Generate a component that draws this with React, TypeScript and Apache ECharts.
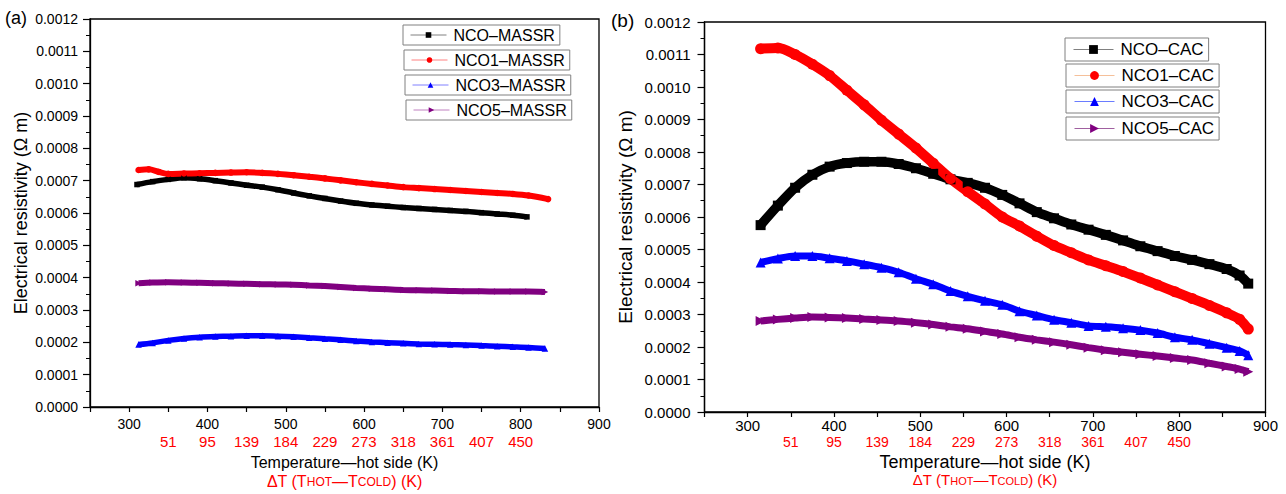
import React, { useEffect, useRef } from "react";
import * as echarts from "echarts";

// ---------- Panel (a): MASSR samples ----------
const tNCO_M = [310, 330, 350, 370, 390, 410, 430, 450, 470, 490, 510, 530, 550, 570, 590, 610, 630, 650, 670, 690, 710, 730, 750, 770, 790, 808];
const rNCO_M = [0.000688, 0.000697, 0.000704, 0.000709, 0.000706, 0.0007, 0.000693, 0.000686, 0.00068, 0.000672, 0.000662, 0.000653, 0.000645, 0.000637, 0.00063, 0.000625, 0.000621, 0.000617, 0.000614, 0.000611, 0.000608, 0.000605, 0.000601, 0.000597, 0.000593, 0.000588];

const tNCO1_M = [312, 325, 338, 350, 370, 390, 410, 430, 450, 470, 490, 510, 530, 550, 570, 590, 610, 630, 650, 670, 690, 710, 730, 750, 770, 790, 810, 835];
const rNCO1_M = [0.000733, 0.000735, 0.000727, 0.000721, 0.000722, 0.000723, 0.000724, 0.000725, 0.000726, 0.000724, 0.000721, 0.000717, 0.000712, 0.000707, 0.000701, 0.000695, 0.00069, 0.000685, 0.00068, 0.000677, 0.000674, 0.000671, 0.000668, 0.000665, 0.000662, 0.000659, 0.000654, 0.000643];

const tNCO35_M = [312, 330, 350, 370, 390, 410, 430, 450, 470, 490, 510, 530, 550, 570, 590, 610, 630, 650, 670, 690, 710, 730, 750, 770, 790, 810, 831];
const rNCO3_M = [0.000193, 0.000198, 0.000206, 0.000212, 0.000216, 0.000218, 0.000219, 0.00022, 0.00022, 0.000219, 0.000217, 0.000214, 0.000211, 0.000208, 0.000204, 0.000201, 0.000199, 0.000197, 0.000195, 0.000194, 0.000193, 0.000192, 0.00019, 0.000188, 0.000186, 0.000184, 0.000181];
const rNCO5_M = [0.000383, 0.000385, 0.000386, 0.000385, 0.000384, 0.000383, 0.000382, 0.000381, 0.00038, 0.000379, 0.000378, 0.000376, 0.000374, 0.000371, 0.000368, 0.000366, 0.000364, 0.000362, 0.000361, 0.00036, 0.000359, 0.000358, 0.000358, 0.000357, 0.000357, 0.000357, 0.000356];

// ---------- Panel (b): CAC samples ----------
const tCAC = [315, 335, 355, 375, 395, 415, 435, 455, 475, 495, 515, 535, 555, 575, 595, 615, 635, 655, 675, 695, 715, 735, 755, 775, 795, 815, 835, 855, 870, 880];
const rNCO_C = [0.000575, 0.000635, 0.00069, 0.00073, 0.000755, 0.000766, 0.00077, 0.00077, 0.000763, 0.00075, 0.000733, 0.000716, 0.000705, 0.00069, 0.000668, 0.000642, 0.000615, 0.000596, 0.000577, 0.000561, 0.000545, 0.000528, 0.00051, 0.000495, 0.00048, 0.000468, 0.000455, 0.00044, 0.00042, 0.000395];
const rNCO1_C = [0.001118, 0.00112, 0.0011, 0.00107, 0.001035, 0.00099, 0.000945, 0.000898, 0.000855, 0.000812, 0.000765, 0.000718, 0.000678, 0.00064, 0.000600, 0.000572, 0.000541, 0.000512, 0.00049, 0.000468, 0.00045, 0.000432, 0.000412, 0.000391, 0.00037, 0.000349, 0.000328, 0.000305, 0.000285, 0.000255];
const rNCO3_C = [0.00046, 0.000472, 0.00048, 0.00048, 0.000473, 0.000465, 0.000455, 0.000444, 0.00043, 0.00041, 0.000393, 0.000372, 0.000356, 0.000342, 0.00033, 0.00031, 0.000297, 0.000284, 0.000275, 0.000265, 0.000262, 0.000258, 0.000252, 0.000243, 0.00023, 0.000222, 0.00021, 0.000198, 0.000188, 0.000175];
const rNCO5_C = [0.00028, 0.000285, 0.000289, 0.000292, 0.000291, 0.000289, 0.000286, 0.000283, 0.00028, 0.000275, 0.000269, 0.000262, 0.000256, 0.000248, 0.00024, 0.00023, 0.000222, 0.000215, 0.000207, 0.000198, 0.00019, 0.000184, 0.000178, 0.000172, 0.000166, 0.00016, 0.00015, 0.00014, 0.000132, 0.000124];

// ΔT (hot minus cold side) readings, placed at hot-side temperatures
const dtTickTemps = [350, 400, 450, 500, 550, 600, 650, 700, 750, 800];
const dtLabels = ["51", "95", "139", "184", "229", "273", "318", "361", "407", "450"];

const FONT = "Liberation Sans, Arial, Helvetica, sans-serif";

const zip = (t: number[], v: number[]) => v.map((y, i) => [t[i], y]);

const dtFormatter = (v: number) => {
  const i = dtTickTemps.indexOf(Math.round(v));
  return i >= 0 ? dtLabels[i] : "";
};

function tempAxis(grid: number, fontSize: number, margin: number, titleSize: number, gap: number) {
  return {
    type: "value",
    gridIndex: grid,
    min: 250,
    max: 900,
    interval: 50,
    name: "Temperature\u2014hot side (K)",
    nameLocation: "middle",
    nameGap: gap,
    nameTextStyle: { fontFamily: FONT, fontSize: titleSize, color: "#000" },
    axisLine: { show: true, onZero: false, lineStyle: { color: "#000", width: 1.3 } },
    axisTick: { show: true, inside: false, length: 5, lineStyle: { color: "#000", width: 1.2 } },
    axisLabel: {
      fontFamily: FONT,
      fontSize,
      color: "#000",
      margin,
      formatter: (v: number) => (Math.round(v) % 100 === 0 && v >= 300 ? String(Math.round(v)) : ""),
    },
    splitLine: { show: false },
  };
}

function dtAxis(grid: number, fontSize: number, margin: number, titleSize: number, gap: number) {
  return {
    type: "value",
    gridIndex: grid,
    position: "bottom",
    min: 250,
    max: 900,
    interval: 50,
    name: "\u0394T (T{s|HOT}\u2014T{s|COLD}) (K)",
    nameLocation: "middle",
    nameGap: gap,
    nameTextStyle: {
      fontFamily: FONT,
      fontSize: titleSize,
      color: "#ff0000",
      rich: {
        s: { fontFamily: FONT, fontSize: Math.round(titleSize * 0.72), color: "#ff0000", verticalAlign: "bottom", padding: [0, 0, 1, 0] },
      },
    },
    axisLine: { show: false },
    axisTick: { show: false },
    axisLabel: { fontFamily: FONT, fontSize, color: "#ff0000", margin, formatter: dtFormatter },
    splitLine: { show: false },
  };
}

function resAxis(grid: number, fontSize: number, margin: number, nameSize: number, gap: number) {
  return {
    type: "value",
    gridIndex: grid,
    min: 0,
    max: 0.0012,
    interval: 0.0001,
    name: "Electrical resistivity (\u03A9 m)",
    nameLocation: "middle",
    nameGap: gap,
    nameTextStyle: { fontFamily: FONT, fontSize: nameSize, color: "#000" },
    axisLine: { show: true, onZero: false, lineStyle: { color: "#000", width: 1.3 } },
    axisTick: { show: true, inside: false, length: 7, lineStyle: { color: "#000", width: 1.2 } },
    minorTick: { show: true, splitNumber: 2, length: 4, lineStyle: { color: "#000", width: 1 } },
    axisLabel: { fontFamily: FONT, fontSize, color: "#000", margin, formatter: (v: number) => v.toFixed(4) },
    splitLine: { show: false },
    minorSplitLine: { show: false },
  };
}

function series(name: string, xi: number, yi: number, data: number[][], color: string, symbol: string, size: number, width: number, rotate = 0) {
  return {
    type: "line",
    name,
    xAxisIndex: xi,
    yAxisIndex: yi,
    data,
    smooth: 0.3,
    symbol,
    symbolSize: size,
    symbolRotate: rotate,
    showSymbol: true,
    lineStyle: { color, width },
    itemStyle: { color, borderWidth: 0 },
    emphasis: { disabled: true },
    silent: true,
  };
}

function legendBox(name: string, left: number, top: number, lineColor: string, fontSize: number, itemW: number, itemH: number, pad: number[]) {
  return {
    data: [name],
    left,
    top,
    orient: "horizontal",
    selectedMode: false,
    borderColor: "#808080",
    borderWidth: 1,
    borderRadius: 0,
    backgroundColor: "#fff",
    padding: pad,
    itemWidth: itemW,
    itemHeight: itemH,
    itemGap: 0,
    lineStyle: { color: lineColor, width: 1 },
    textStyle: { fontFamily: FONT, fontSize, color: "#000", padding: [0, 0, 0, 2] },
  };
}

export default function App() {
  const ref = useRef<HTMLDivElement>(null);

  useEffect(() => {
    if (!ref.current) return;
    const chart = echarts.init(ref.current, undefined, { renderer: "svg" });

    const option = {
      animation: false,
      backgroundColor: "#fff",
      textStyle: { fontFamily: FONT },
      grid: [
        { left: 90, top: 19, width: 509, height: 389, show: true, borderColor: "#000", borderWidth: 1.3, backgroundColor: "transparent" },
        { left: 704.5, top: 22, width: 561, height: 390, show: true, borderColor: "#000", borderWidth: 1.3, backgroundColor: "transparent" },
      ],
      xAxis: [
        tempAxis(0, 14, 10, 16, 47),
        dtAxis(0, 15, 27, 16, 66),
        tempAxis(1, 15, 6, 18, 41),
        dtAxis(1, 14, 23, 15, 60),
      ],
      yAxis: [resAxis(0, 14, 12, 18, 60), resAxis(1, 15, 14, 19, 70)],
      legend: [
        legendBox("NCO\u2013MASSR", 403, 25, "#808080", 16, 36, 7, [2, 5, 2, 7]),
        legendBox("NCO1\u2013MASSR", 404, 50, "#ff8080", 16, 36, 7, [2, 5, 2, 7]),
        legendBox("NCO3\u2013MASSR", 405, 75, "#8080ff", 16, 36, 7, [2, 5, 2, 7]),
        legendBox("NCO5\u2013MASSR", 406, 100, "#c080c0", 16, 36, 7, [2, 5, 2, 7]),
        legendBox("NCO\u2013CAC", 1065, 38, "#808080", 17, 40, 11, [3, 5, 3, 8]),
        legendBox("NCO1\u2013CAC", 1066, 64, "#f5c09a", 17, 40, 11, [3, 5, 3, 8]),
        legendBox("NCO3\u2013CAC", 1066, 90, "#6a7cff", 17, 40, 11, [3, 5, 3, 8]),
        legendBox("NCO5\u2013CAC", 1066, 117, "#a060a0", 17, 40, 11, [3, 5, 3, 8]),
      ],
      series: [
        series("NCO\u2013MASSR", 0, 0, zip(tNCO_M, rNCO_M), "#000000", "rect", 5.5, 5.5),
        series("NCO1\u2013MASSR", 0, 0, zip(tNCO1_M, rNCO1_M), "#ff0000", "circle", 6.5, 6),
        series("NCO3\u2013MASSR", 0, 0, zip(tNCO35_M, rNCO3_M), "#0000ff", "triangle", 6.5, 5.5),
        series("NCO5\u2013MASSR", 0, 0, zip(tNCO35_M, rNCO5_M), "#800080", "triangle", 6.5, 6, -90),
        series("NCO\u2013CAC", 2, 1, zip(tCAC, rNCO_C), "#000000", "rect", 10, 9.5),
        series("NCO1\u2013CAC", 2, 1, zip(tCAC, rNCO1_C), "#ff0000", "circle", 11, 10),
        series("NCO3\u2013CAC", 2, 1, zip(tCAC, rNCO3_C), "#0000ff", "triangle", 10, 7),
        series("NCO5\u2013CAC", 2, 1, zip(tCAC, rNCO5_C), "#800080", "triangle", 10, 7, -90),
      ],
      graphic: [
        { type: "text", left: 5, top: 9, style: { text: "(a)", fontFamily: FONT, fontSize: 18, fill: "#000" } },
        { type: "text", left: 611, top: 11, style: { text: "(b)", fontFamily: FONT, fontSize: 19, fill: "#000" } },
      ],
    };

    chart.setOption(option as any);
    return () => chart.dispose();
  }, []);

  return (
    <div
      ref={ref}
      style={{ position: "fixed", left: 0, top: 0, width: 1286, height: 494, background: "#fff" }}
    />
  );
}
